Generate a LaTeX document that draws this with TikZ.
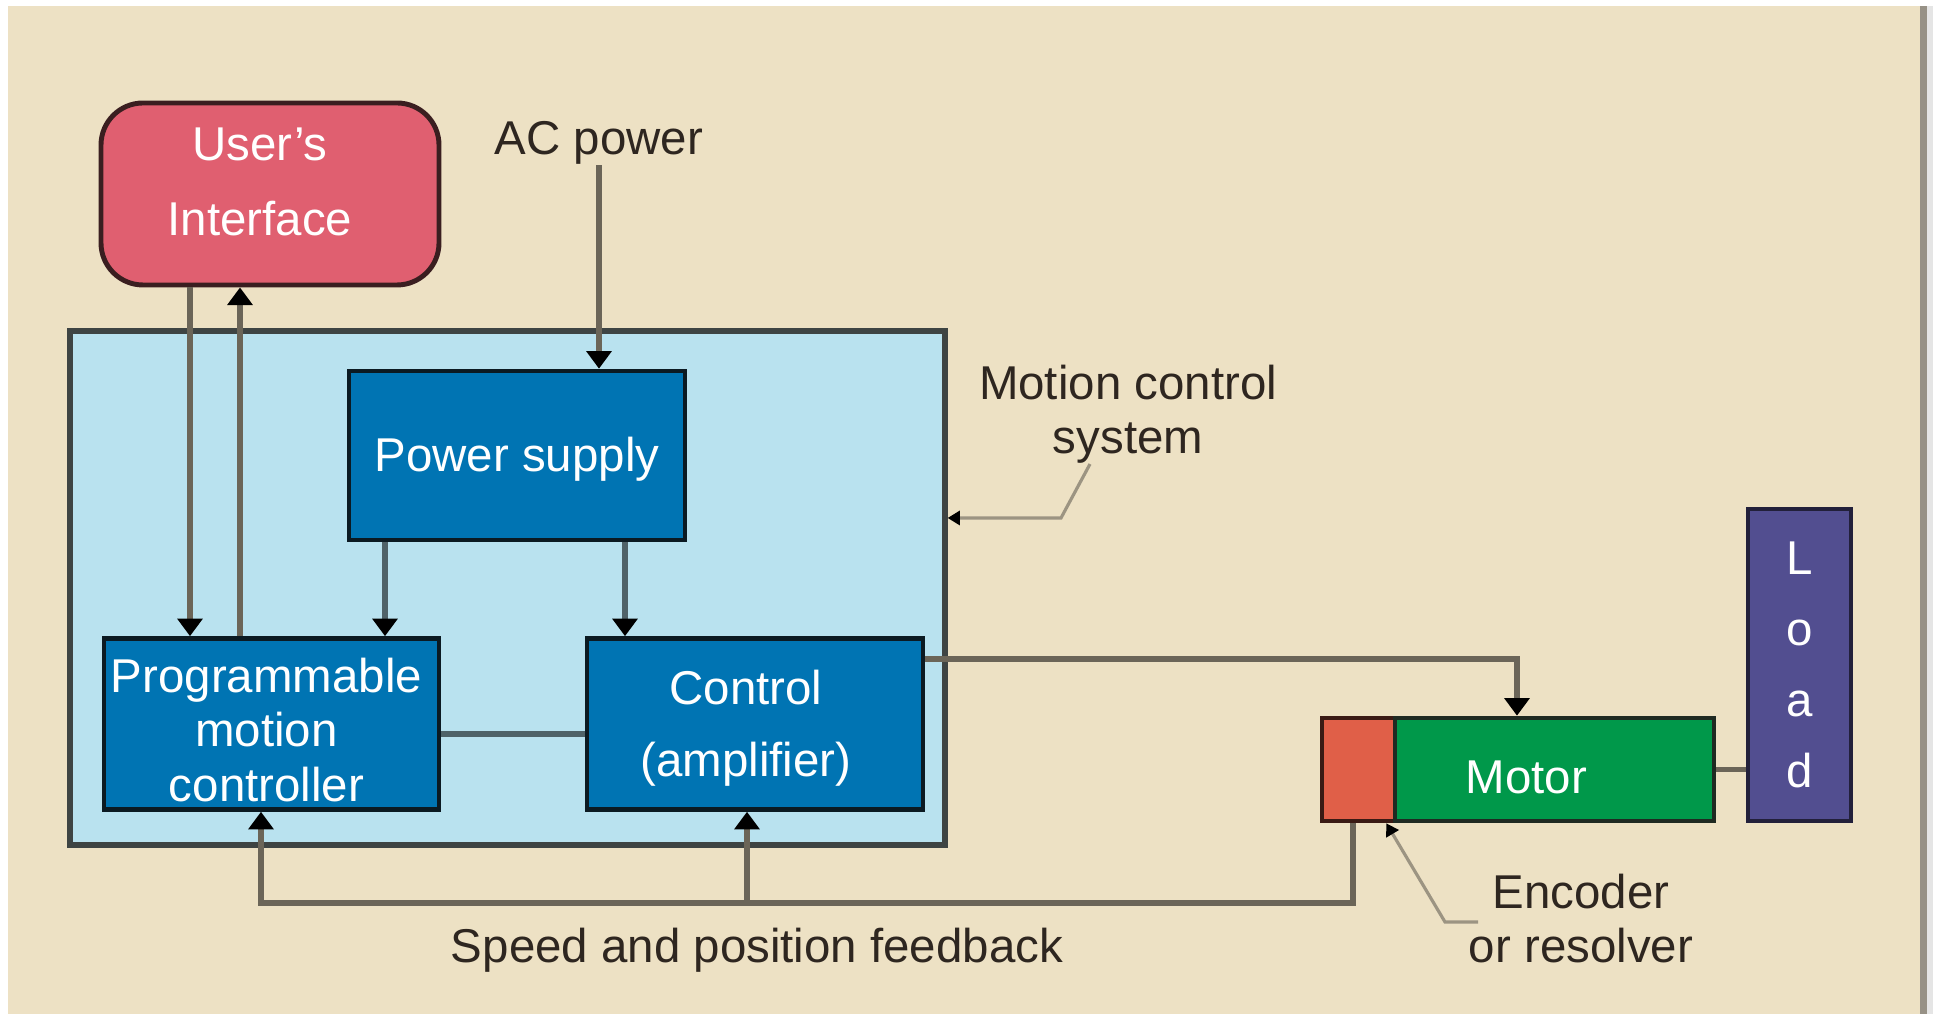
\documentclass[tikz,border=0pt]{standalone}
\usepackage{fontspec}
\setmainfont{Liberation Sans}
\usetikzlibrary{arrows.meta}

\definecolor{paper}{HTML}{EDE1C4}
\definecolor{frame}{HTML}{979186}
\definecolor{uired}{HTML}{E05F70}
\definecolor{uiedge}{HTML}{3A1E20}
\definecolor{sysblue}{HTML}{B9E2EF}
\definecolor{sysedge}{HTML}{3E4443}
\definecolor{unitblue}{HTML}{0074B3}
\definecolor{unitedge}{HTML}{0B1A22}
\definecolor{encred}{HTML}{E05F48}
\definecolor{encedge}{HTML}{3A1A14}
\definecolor{motgreen}{HTML}{00984A}
\definecolor{motedge}{HTML}{1F2A22}
\definecolor{loadpurple}{HTML}{524E90}
\definecolor{loadedge}{HTML}{22203A}
\definecolor{wirecol}{HTML}{6B6558}
\definecolor{wireincol}{HTML}{4F6268}
\definecolor{leadcol}{HTML}{9C9482}
\definecolor{ink}{HTML}{2E2620}

\newcommand{\diagfont}{\fontsize{13.5pt}{15.5pt}\selectfont}

\tikzset{
  unit/.style={draw=unitedge, line width=1.3pt, fill=unitblue,
    minimum width=3.36cm, minimum height=1.71cm},
  boxtxt/.style={text=white, align=center, font=\diagfont, inner sep=0pt},
  note/.style={text=ink, align=center, font=\diagfont, inner sep=0pt},
  wire/.style={draw=wirecol, line width=1.5pt},
  wirein/.style={draw=wireincol, line width=1.5pt},
  leader/.style={draw=leadcol, line width=0.9pt,
    -{Triangle[length=3.5pt,width=4pt,color=black]}}
}

\begin{document}
\begin{tikzpicture}[>={Triangle[length=5pt,width=7pt,color=black]}]

    % Background
    \useasboundingbox (0,0) rectangle (19.33,10.14);
    \fill[white] (0,0) rectangle (19.33,10.14);
    \fill[paper] (0.08,0) rectangle (19.20,10.08);
    \fill[frame] (19.20,0) rectangle (19.27,10.08);
    \fill[black!10] (19.27,0) rectangle (19.33,10.08);

    % Motion control system
    \node[draw=sysedge, line width=1.5pt, fill=sysblue,
          minimum width=8.75cm, minimum height=5.14cm] (mcs) at (5.075,4.26) {};

    % User's interface
    \node[draw=uiedge, line width=1.4pt, fill=uired, rounded corners=0.42cm,
          minimum width=3.38cm, minimum height=1.82cm] (ui) at (2.70,8.20) {};
    \node[boxtxt] (uitxt) at ([xshift=-0.1cm,yshift=0.12cm]ui.center) {User's\\[5.8pt]Interface};

    % Units
    \node[unit, minimum height=1.69cm] (ps) at (5.17,5.585) {};
    \node[unit, minimum width=3.35cm] (pmc) at (2.715,2.90) {};
    \node[unit] (ctrl) at (7.55,2.90) {};
    \node[boxtxt] (pstxt) at ([yshift=-0.04cm]ps.center) {Power supply};
    \node[boxtxt] (pmctxt) at ([xshift=-0.05cm,yshift=-0.06cm]pmc.center) {Programmable\\motion\\controller};
    \node[boxtxt] (ctrltxt) at ([xshift=-0.09cm,yshift=-0.04cm]ctrl.center) {Control\\[5pt](amplifier)};

    % Motor, encoder, load
    \node[draw=encedge, line width=1.3pt, fill=encred,
          minimum width=0.73cm, minimum height=1.03cm] (enc) at (13.585,2.445) {};
    \node[draw=motedge, line width=1.3pt, fill=motgreen,
          minimum width=3.19cm, minimum height=1.03cm] (motor) at (15.545,2.445) {};
    \node[boxtxt] (motortxt) at ([xshift=-0.28cm,yshift=-0.08cm]motor.center) {Motor};
    \node[draw=loadedge, line width=1.3pt, fill=loadpurple, text=white, font=\diagfont,
          align=center, minimum width=1.03cm, minimum height=3.12cm] (load) at (17.995,3.49)
          {L\\[4.7pt]o\\[4.7pt]a\\[4.7pt]d};

    % Labels
    \node[note] (ac) at (5.99,8.71) {AC power};
    \node[note] (mcslbl) at (11.28,6.00) {Motion control\\system};
    \node[note] (enclbl) at (15.81,0.955) {Encoder\\or resolver};
    \node[note] (fblbl) at (7.57,0.64) {Speed and position feedback};

    % Power and commands
    \draw[wire,->] (ac.south) -- (ac.south |- ps.north);
    \draw[wire,->] ([xshift=-0.80cm]ui.south) -- ([xshift=-0.80cm]ui.south |- pmc.north);
    \draw[wire,<-] ([xshift=-0.30cm]ui.south) -- ([xshift=-0.30cm]ui.south |- pmc.north);
    \draw[wirein,->] ([xshift=-1.32cm]ps.south) -- ([xshift=-1.32cm]ps.south |- pmc.north);
    \draw[wirein,->] ([xshift=1.08cm]ps.south) -- ([xshift=1.08cm]ps.south |- ctrl.north);
    \draw[wirein] ([yshift=-0.10cm]pmc.east) -- ([yshift=-0.10cm]ctrl.west);
    \draw[wire,->] ([yshift=0.65cm]ctrl.east) -| ([xshift=-0.375cm]motor.north);
    \draw[wire] (motor.east) -- (motor.east -| load.west);

    % Feedback
    \coordinate (fbright) at (13.53,1.11);
    \coordinate (fbmid) at (7.47,1.11);
    \coordinate (fbleft) at (2.61,1.11);
    \draw[wire,->] (enc.south -| fbright) -- (fbright) -- (fbleft) -- (fbleft |- pmc.south);
    \draw[wire,->] (fbmid) -- (fbmid |- ctrl.south);

    % Leaders
    \coordinate (mcsbend) at (10.61,4.96);
    \draw[leader] ([xshift=-0.38cm]mcslbl.south) -- (mcsbend) -- (mcsbend -| mcs.east);
    \coordinate (encstart) at (14.78,0.92);
    \coordinate (encbend) at (14.45,0.92);
    \draw[leader] (encstart) -- (encbend) -- ([xshift=-0.11cm]enc.south east);

\end{tikzpicture}
\end{document}
